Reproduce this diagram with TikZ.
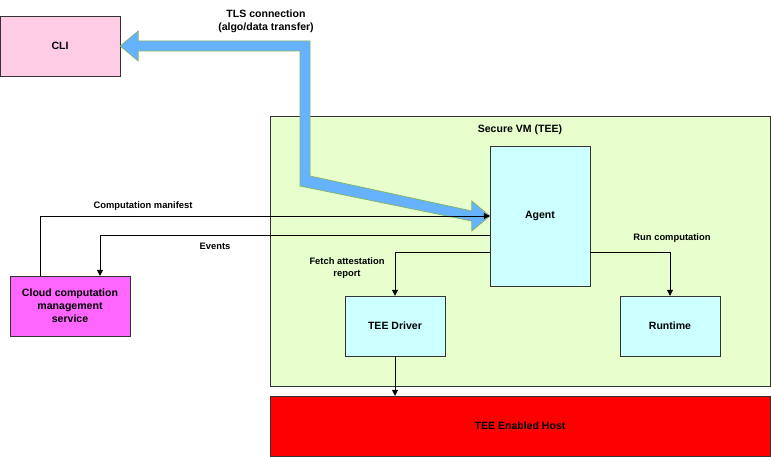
\documentclass[tikz,border=0pt]{standalone}
\usepackage{fontspec}
\setmainfont{Liberation Sans}
\usetikzlibrary{arrows.meta,calc}
\definecolor{clipink}{HTML}{FFCCE6}
\definecolor{vmgreen}{HTML}{E6FFCC}
\definecolor{boxcyan}{HTML}{CCFFFF}
\definecolor{cloudmag}{HTML}{FF66FF}
\definecolor{tlsblue}{HTML}{66B2FF}
\definecolor{tlsgreen}{HTML}{82B366}
\begin{document}
\begin{tikzpicture}[x=0.03cm,y=-0.03cm,
    block/.style={draw=black!80, fill=boxcyan, minimum width=3cm, minimum height=1.8cm, inner sep=0pt, align=center, font=\fontsize{9}{11}\selectfont\bfseries},
    lbl/.style={align=center, font=\fontsize{8}{10}\selectfont\bfseries},
    arrow/.style={-{Triangle[length=5pt,width=5pt]}, black}
]
\useasboundingbox (0,0) rectangle (771,457);

\node[block, fill=clipink, minimum width=3.6cm] (cli) at (60,46) {CLI};
\node[draw=black!80, fill=vmgreen, minimum width=15cm, minimum height=8.1cm, inner sep=0pt] (vm) at (520,251) {};
\node[lbl, font=\fontsize{9}{11}\selectfont\bfseries] (vmlbl) at (520,130) {Secure VM (TEE)};
\node[block, minimum height=4.2cm] (agent) at (540,216) {Agent};
\node[block] (driver) at (395,326) {TEE Driver};
\node[block] (runtime) at (670,326) {Runtime};
\node[block, fill=red, minimum width=15cm] (host) at (520,426) {TEE Enabled Host};
\node[block, fill=cloudmag, minimum width=3.6cm] (cloud) at (70,306) {Cloud computation\\management\\service};

% thick TLS arrow
\draw[tlsgreen, fill=tlsblue, line width=0.6pt]
  (cli.east) -- ++(18,-15) -- ++(0,10) -- (310,41) -- (310,176)
  -- ($(agent.west)+(-18,-5)$) -- ++(0,-10) -- (agent.west) -- ++(-18,15) -- ++(0,-10)
  -- (300,186) -- (300,51) -- ($(cli.east)+(18,5)$) -- ++(0,10) -- cycle;
\node[lbl, font=\fontsize{9}{11}\selectfont\bfseries] (tls) at (266,21) {TLS connection\\(algo/data transfer)};

\coordinate (manin) at ($(agent.west)+(0,0)$);
\draw[arrow] (cloud.north -| 40,0) -- (40,216) -- (manin);
\node[lbl] (manlbl) at (143,206) {Computation manifest};

\draw[arrow] ($(agent.west)+(0,19)$) -| (cloud.north -| 100,0);
\node[lbl] (evlbl) at (215,246) {Events};

\draw[arrow] ($(agent.west)+(0,36)$) -| (driver.north);
\node[lbl] (fetchlbl) at (347,268) {Fetch attestation\\report};

\draw[arrow] ($(agent.east)+(0,36)$) -| (runtime.north);
\node[lbl] (runlbl) at (672,238) {Run computation};

\draw[arrow] (driver.south) -- (driver.south |- host.north);
\end{tikzpicture}
\end{document}
